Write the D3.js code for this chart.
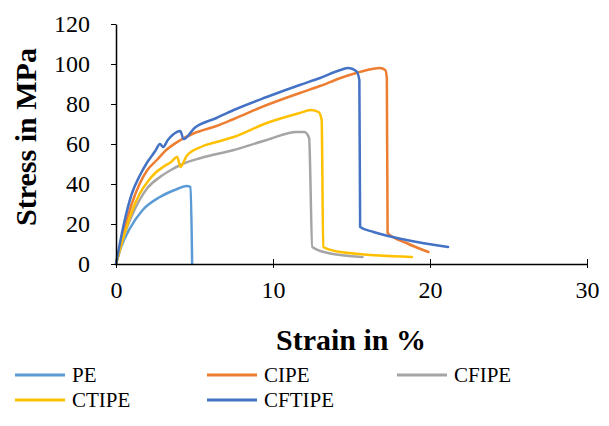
<!DOCTYPE html>
<html>
<head>
<meta charset="utf-8">
<script src="https://cdn.jsdelivr.net/npm/d3@7"></script>
</head>
<body style="margin:0">
<svg id="chart" width="609" height="426" font-family="Liberation Serif"></svg>
<script>
// Stress-strain curves of the five specimens
const seriesNames = ["PE", "CIPE", "CFIPE", "CTIPE", "CFTIPE"];
const seriesColors = ["#5B9BD5", "#ED7D31", "#A5A5A5", "#FFC000", "#4472C4"];

const peStrain = [0, 0.3, 0.9, 1.7, 2.8, 3.9, 4.5, 4.75, 4.85];
const peStress = [0, 8, 18, 27, 33.5, 37.5, 39, 38.5, 0];

const cipeStrain = [0, 0.5, 1, 1.5, 2, 2.6, 3.2, 4, 5, 6.4, 7.5, 9.6, 11.7, 13, 14.3, 15.3, 16.3, 16.8, 17.15, 17.25, 17.3, 18.5, 19.9];
const cipeStress = [0, 17, 30, 40, 47, 52, 57, 61.5, 65.5, 69, 72.5, 79.5, 85.5, 89, 93, 95.5, 97.5, 98, 97, 93, 15.5, 10.5, 6];

const cfipeStrain = [0, 0.5, 1, 1.5, 2, 2.8, 3.5, 4.1, 5.4, 7.5, 9.6, 11.5, 12.0, 12.3, 12.5, 13.5, 15.7];
const cfipeStress = [0, 14, 24, 32, 38, 43.5, 47, 49.5, 53, 57, 62, 66, 66, 63, 8.5, 5.5, 3.5];

const ctipeStrain = [0, 0.5, 1, 1.5, 2, 2.5, 3, 3.5, 3.9, 4.1, 4.5, 5.4, 6.4, 7.5, 9.6, 11.7, 12.4, 12.9, 13.1, 13.2, 14.3, 18.85];
const ctipeStress = [0, 14, 26, 35, 41, 45.5, 48.5, 51, 53.5, 48.5, 54, 58.5, 61, 63.5, 70.5, 75.5, 77, 76, 72, 8.5, 6, 3.5];

const cftipeStrain = [0, 0.5, 1, 1.5, 2, 2.5, 2.8, 3.0, 3.3, 3.6, 4.1, 4.3, 5, 6.4, 7.5, 9.6, 11.7, 13, 14.3, 14.8, 15.3, 15.5, 15.55, 16.4, 18.5, 21.15];
const cftipeStress = [0, 20, 35, 44, 51, 56.5, 60, 58.5, 62, 64.5, 66.5, 62.5, 68, 73, 77, 83.5, 89.5, 93, 97, 98, 96.5, 92, 18.5, 16, 12, 8.5];

const xTicks = [0, 10, 20, 30];
const yTicks = [0, 20, 40, 60, 80, 100, 120];

const seriesData = [
  [peStrain, peStress],
  [cipeStrain, cipeStress],
  [cfipeStrain, cfipeStress],
  [ctipeStrain, ctipeStress],
  [cftipeStrain, cftipeStress]
].map(([xs, ys], i) => ({
  name: seriesNames[i],
  color: seriesColors[i],
  points: xs.map((v, j) => ({ x: v, y: ys[j] }))
}));

const svg = d3.select("#chart");

const x = d3.scaleLinear().domain([0, 30]).range([116, 587]);
const y = d3.scaleLinear().domain([0, 120]).range([264, 24]);

// Curves, monotone in strain so the fracture drops stay vertical
const line = d3.line()
  .x(d => x(d.x))
  .y(d => y(d.y))
  .curve(d3.curveMonotoneX);

svg.append("g")
  .selectAll("path")
  .data(seriesData)
  .join("path")
  .attr("d", d => line(d.points))
  .attr("fill", "none")
  .attr("stroke", d => d.color)
  .attr("stroke-width", 2.5)
  .attr("stroke-linejoin", "round")
  .attr("stroke-linecap", "round");

// Y axis
const yAxis = svg.append("g")
  .attr("transform", `translate(${x(0)},0)`)
  .call(d3.axisLeft(y).tickValues(yTicks).tickSize(5).tickSizeOuter(0).tickPadding(21));
yAxis.attr("font-family", "Liberation Serif").attr("font-size", 24);
yAxis.select(".domain").attr("stroke", "#000").attr("stroke-width", 1.5);
yAxis.selectAll(".tick line").attr("stroke", "#000").attr("stroke-width", 1);
yAxis.selectAll(".tick text").attr("fill", "#000");

// X axis
const xAxis = svg.append("g")
  .attr("transform", `translate(0,${y(0)})`)
  .call(d3.axisBottom(x).tickValues(xTicks).tickSize(4).tickSizeOuter(0));
xAxis.attr("font-family", "Liberation Serif").attr("font-size", 24);
xAxis.select(".domain").attr("stroke", "#000").attr("stroke-width", 1.5);
xAxis.selectAll(".tick line").attr("stroke", "#000").attr("stroke-width", 1).attr("y1", -5).attr("y2", 4);
xAxis.selectAll(".tick text")
  .attr("fill", "#000")
  .attr("y", 34)
  .attr("dy", 0);

// Axis titles
svg.append("text")
  .attr("transform", `translate(36,${(y(0) + y(120)) / 2 - 7}) rotate(-90)`)
  .attr("text-anchor", "middle")
  .attr("font-size", 30)
  .attr("font-weight", "bold")
  .text("Stress in MPa");

svg.append("text")
  .attr("x", 351)
  .attr("y", 350)
  .attr("text-anchor", "middle")
  .attr("font-size", 30)
  .attr("font-weight", "bold")
  .text("Strain in %");

// Legend
const legendPos = [[15, 375], [207, 375], [397, 375], [15, 400], [207, 400]];
const legend = svg.append("g")
  .selectAll("g")
  .data(seriesData)
  .join("g")
  .attr("transform", (d, i) => `translate(${legendPos[i][0]},${legendPos[i][1]})`);
legend.append("line")
  .attr("x1", 0).attr("x2", 50)
  .attr("y1", 0).attr("y2", 0)
  .attr("stroke", d => d.color)
  .attr("stroke-width", 3);
legend.append("text")
  .attr("x", 57)
  .attr("y", 7)
  .attr("font-size", 21)
  .text(d => d.name);
</script>
</body>
</html>
